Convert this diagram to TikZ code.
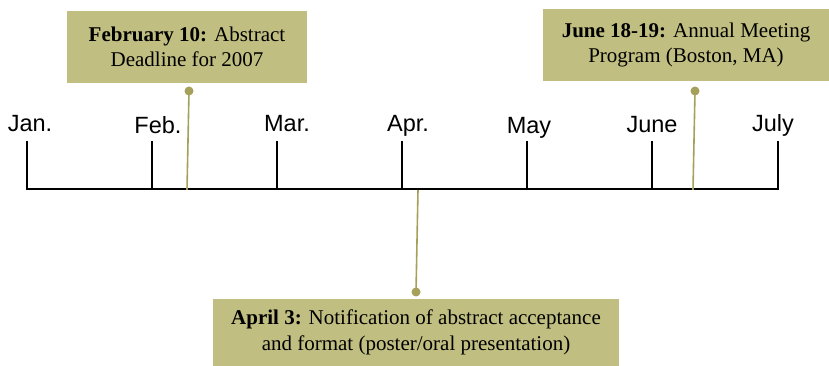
\documentclass[tikz,border=0pt]{standalone}
\usepackage{fontspec}
\setmainfont{Liberation Serif}
\setsansfont{Liberation Sans}
\definecolor{khaki}{RGB}{192, 190, 128}
\definecolor{stemcolor}{RGB}{165, 160, 90}

\begin{document}
\begin{tikzpicture}[x=1pt, y=-1pt, thick]
  \tikzset{
    event/.style={fill=khaki, inner sep=0pt, align=center,
                  font=\fontsize{21}{25.5}\selectfont},
    month/.style={anchor=base, font=\sffamily\fontsize{23.5}{28}\selectfont},
    dot/.style={circle, fill=stemcolor, inner sep=0pt, minimum size=9},
    stem/.style={color=stemcolor, line width=1.6},
  }
  \useasboundingbox (0, 0) rectangle (829, 366);

  \coordinate (start) at (27, 189);
  \coordinate (stop) at (778, 189);
  \draw [line width=2] (start) -- (stop);
  \foreach \x in {27, 152, 277, 402, 527, 652, 778} {
    \draw [line width=2] (\x, 190) -- (\x, 141);
  }

  \node[month] (jan) at (30, 132) {Jan.};
  \node[month] (feb) at (158, 134) {Feb.};
  \node[month] (mar) at (287, 132) {Mar.};
  \node[month] (apr) at (408, 132) {Apr.};
  \node[month] (may) at (529, 134) {May};
  \node[month] (jun) at (652, 133) {June};
  \node[month] (jul) at (773, 132) {July};

  %

  \node[event, minimum width=240, minimum height=72] (deadline) at (187, 47)
    {\textbf{February 10:} Abstract\\Deadline for 2007};
  \node[dot] (deadlinedot) at (189, 91) {};
  \coordinate (deadlinefoot) at (187, 190);
  \draw [stem] (deadlinedot.center) -- (deadlinefoot);

  \node[event, minimum width=286, minimum height=72] (meeting) at (686, 45)
    {\textbf{June 18-19:} Annual Meeting\\Program (Boston, MA)};
  \node[dot] (meetingdot) at (695, 91) {};
  \coordinate (meetingfoot) at (693, 190);
  \draw [stem] (meetingdot.center) -- (meetingfoot);

  \node[event, minimum width=406, minimum height=67] (notice) at (416, 332.5)
    {\textbf{April 3:} Notification of abstract acceptance\\and format (poster/oral presentation)};
  \node[dot] (noticedot) at (416, 292) {};
  \coordinate (noticefoot) at (418, 190);
  \draw [stem] (noticedot.center) -- (noticefoot);

\end{tikzpicture}
\end{document}
